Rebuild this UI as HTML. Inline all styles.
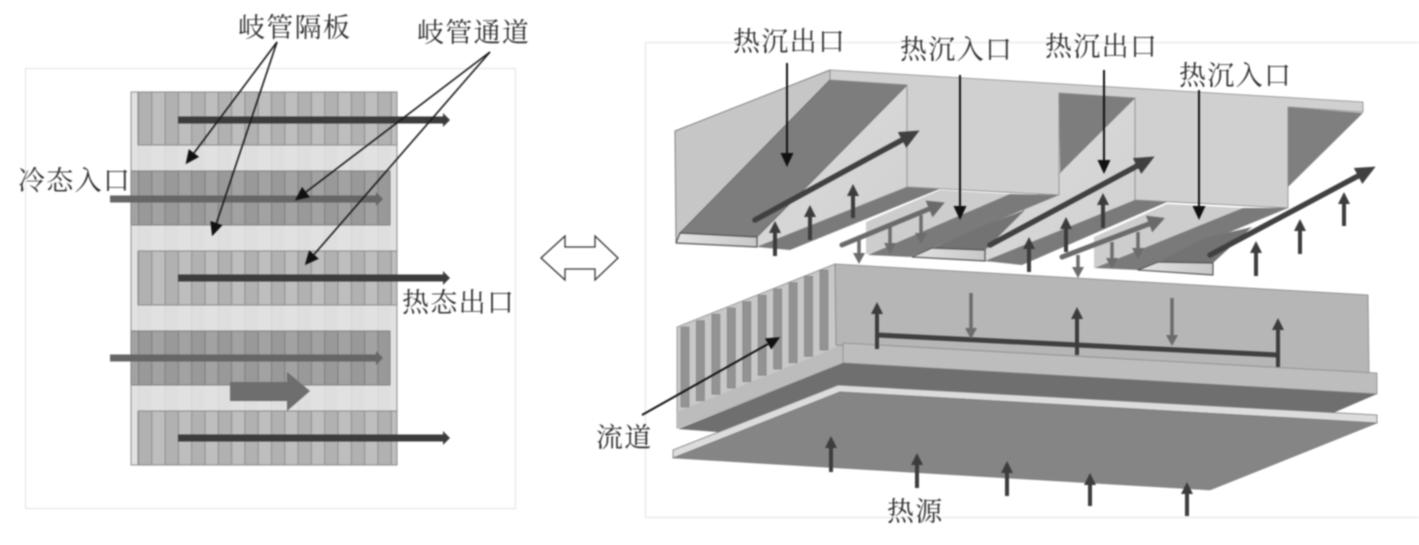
<!DOCTYPE html>
<html><head><meta charset="utf-8"><style>
html,body{margin:0;padding:0;background:#fff;width:1419px;height:545px;overflow:hidden}
svg{display:block;filter:blur(.7px)}
text{font-family:"Liberation Serif","Noto Serif CJK SC",serif;font-size:27px;letter-spacing:1.3px;fill:#2e2e2e}
</style></head><body>
<svg width="1419" height="545" viewBox="0 0 1419 545" xmlns="http://www.w3.org/2000/svg">
<defs>
<marker id="mk" markerUnits="userSpaceOnUse" markerWidth="15" markerHeight="14" refX="0" refY="7" orient="auto"><path d="M0 0.5L14 7L0 13.5Z" fill="#111"/></marker>
<marker id="ds" markerUnits="userSpaceOnUse" markerWidth="13" markerHeight="14" refX="0" refY="7" orient="auto"><path d="M0 1L12 7L0 13Z" fill="#3c3c3c"/></marker>
<marker id="gs" markerUnits="userSpaceOnUse" markerWidth="13" markerHeight="14" refX="0" refY="7" orient="auto"><path d="M0 1L11 7L0 13Z" fill="#6c6c6c"/></marker>
<marker id="bg" markerUnits="userSpaceOnUse" markerWidth="22" markerHeight="20" refX="0" refY="10" orient="auto"><path d="M0 1L20 10L0 19Z" fill="#404040"/></marker>
<marker id="mg" markerUnits="userSpaceOnUse" markerWidth="19" markerHeight="20" refX="0" refY="10" orient="auto"><path d="M0 1L17 10L0 19Z" fill="#6a6a6a"/></marker>
<marker id="h1" markerUnits="userSpaceOnUse" markerWidth="9" markerHeight="16" refX="0" refY="8" orient="auto"><path d="M0 1L7 8L0 15Z" fill="#3c3c3c"/></marker>
<marker id="h2" markerUnits="userSpaceOnUse" markerWidth="9" markerHeight="16" refX="0" refY="8" orient="auto"><path d="M0 1L7 8L0 15Z" fill="#666"/></marker>
<pattern id="pA" patternUnits="userSpaceOnUse" x="138" y="0" width="26.6" height="10"><rect width="26.6" height="10" fill="#b1b1b1"/><rect x="13.3" width="13.3" height="10" fill="#bebebe"/><rect width="1" height="10" fill="#8f8f8f"/><rect x="13.3" width="1" height="10" fill="#8f8f8f"/></pattern>
<pattern id="pB" patternUnits="userSpaceOnUse" x="138" y="0" width="26.6" height="10"><rect width="26.6" height="10" fill="#999"/><rect x="13.3" width="13.3" height="10" fill="#a2a2a2"/><rect width="1" height="10" fill="#7e7e7e"/><rect x="13.3" width="1" height="10" fill="#7e7e7e"/></pattern>
<pattern id="pC" patternUnits="userSpaceOnUse" x="138" y="0" width="26.6" height="10"><rect width="26.6" height="10" fill="#dedede"/><rect x="13.3" width="13.3" height="10" fill="#e1e1e1"/><rect width="1" height="10" fill="#d6d6d6"/></pattern>
<linearGradient id="wall" x1="0" y1="0" x2="1" y2="1"><stop offset="0" stop-color="#bdbdbd"/><stop offset=".5" stop-color="#d6d6d6"/><stop offset="1" stop-color="#cfcfcf"/></linearGradient>
<linearGradient id="lip" x1="0" y1="0" x2="1" y2="0"><stop offset="0" stop-color="#e2e2e2"/><stop offset="1" stop-color="#c8c8c8"/></linearGradient>
</defs>

<!-- frames -->
<rect x="25.5" y="68.5" width="490" height="440" fill="#fff" stroke="#e2e2e2"/>
<rect x="645.5" y="42.5" width="790" height="475" fill="#fff" stroke="#e2e2e2"/>

<!-- left plan view -->
<rect x="131" y="92" width="266" height="373" fill="url(#pC)" stroke="#8f8f8f"/>
<rect x="138" y="92" width="259" height="53" fill="url(#pA)" stroke="#8a8a8a"/>
<rect x="131" y="171" width="259" height="54" fill="url(#pB)" stroke="#808080"/>
<rect x="138" y="251" width="259" height="54" fill="url(#pA)" stroke="#8a8a8a"/>
<rect x="131" y="331" width="259" height="54" fill="url(#pB)" stroke="#808080"/>
<rect x="138" y="411" width="259" height="54" fill="url(#pA)" stroke="#8a8a8a"/>
<g stroke-width="7" fill="none">
<line x1="178" y1="120" x2="443" y2="120" stroke="#3c3c3c" marker-end="url(#h1)"/>
<line x1="178" y1="278" x2="443" y2="278" stroke="#3c3c3c" marker-end="url(#h1)"/>
<line x1="178" y1="438" x2="443" y2="438" stroke="#3c3c3c" marker-end="url(#h1)"/>
<line x1="110" y1="199" x2="376" y2="199" stroke="#666" marker-end="url(#h2)"/>
<line x1="110" y1="358" x2="376" y2="358" stroke="#666" marker-end="url(#h2)"/>
</g>
<polygon points="230,382 287,382 287,372 310,391 287,411 287,401 230,401" fill="#6e6e6e"/>
<g stroke="#1a1a1a" stroke-width="1.6" fill="none">
<line x1="277" y1="42" x2="194" y2="153" marker-end="url(#mk)"/>
<line x1="277" y1="42" x2="216.500" y2="223" marker-end="url(#mk)"/>
<line x1="490" y1="52" x2="306" y2="192" marker-end="url(#mk)"/>
<line x1="490" y1="52" x2="314" y2="254.500" marker-end="url(#mk)"/>
</g>

<!-- double arrow -->
<polygon points="541,258 565,236 565,247 595,247 595,236 618,258 595,280 595,269 565,269 565,280" fill="#fff" stroke="#333" stroke-width="1.3"/>

<!-- manifold -->
<g stroke-linejoin="round">
<polygon points="675,131 830,70 830,80 680,233 676,243" fill="#c6c6c6" stroke="#808080"/>
<polygon points="757,237 907,85 907,187 757,247" fill="url(#wall)" stroke="#a0a0a0" stroke-width=".6"/>
<polygon points="680,233 830,80 907,85 757,237" fill="#7d7d7d" stroke="#666" stroke-width=".6"/>
<polygon points="680,233 757,237 757,247 676,243" fill="url(#lip)" stroke="#555" stroke-width="1.2"/>
<polygon points="907,187 942,188 790,250 757,247" fill="#7a7a7a"/>

<polygon points="866,222 940,190 1010,194 870,254 866,254" fill="#cdcdcd"/>
<polygon points="985,250 1059,173 1135,98 1135,200 1020,262 985,261" fill="url(#wall)" stroke="#a0a0a0" stroke-width=".6"/>
<polygon points="1059,93 1135,98 1060,173" fill="#7d7d7d"/>
<polygon points="1010,194 1059,195 910,257 868,255" fill="#7a7a7a"/>
<polygon points="1025,210 985,250 932,248 985,225" fill="#737373"/>
<polygon points="912,257 932,248 985,250 985,261" fill="url(#lip)" stroke="#555" stroke-width="1.2"/>
<polygon points="1135,200 1167,202 1022,265 985,261" fill="#7a7a7a"/>

<polygon points="1094,237 1167,204 1243,208 1098,268 1094,268" fill="#cdcdcd"/>
<polygon points="1243,208 1288,208 1138,270 1095,268" fill="#7a7a7a"/>
<polygon points="1252,227 1213,263 1158,262 1205,238" fill="#737373"/>
<polygon points="1138,270 1158,262 1213,263 1213,275" fill="url(#lip)" stroke="#555" stroke-width="1.2"/>
<polygon points="1287,107 1363,113 1288,187" fill="#7f7f7f"/>

<polygon points="830,70 1363,102 1363,112 1288,107 1288,208 1135,200 1135,98 1059,93 1059,195 907,187 907,85 830,80" fill="#d0d0d0" stroke="#888" stroke-width=".8"/>
</g>

<!-- heat sink -->
<polygon points="677,327 835,264 843,343 843,363 677,428" fill="#c8c8c8" stroke="#8a8a8a" stroke-width=".8"/>
<polygon points="677,412 830,350 843,343 843,363 677,428" fill="#bcbcbc"/>
<g fill="#939393" stroke="#7c7c7c" stroke-width=".6">
<rect x="681" y="327" width="8" height="80"/>
<rect x="696.4" y="320.7" width="8" height="80"/>
<rect x="711.9" y="314.3" width="8" height="80"/>
<rect x="727.3" y="308" width="8" height="80"/>
<rect x="742.8" y="301.7" width="8" height="80"/>
<rect x="758.2" y="295.3" width="8" height="80"/>
<rect x="773.6" y="289" width="8" height="80"/>
<rect x="789.1" y="282.7" width="8" height="80"/>
<rect x="804.5" y="276.3" width="8" height="80"/>
<rect x="820" y="270" width="8" height="80"/>
</g>
<polygon points="835,264 1368,295 1369,373 836,345" fill="#b6b6b6" stroke="#808080" stroke-width=".8"/>
<polygon points="843,343 1377,373 1377,394 843,363" fill="#bdbdbd" stroke="#8a8a8a" stroke-width=".8"/>
<polygon points="843,363 1377,394 1333,413 717,432 678,429" fill="#6f6f6f"/>
<polygon points="673,450 838,385 1377,415 1377,423 840,392 673,458" fill="#dcdcdc" stroke="#777" stroke-width=".8"/>
<polygon points="673,458 840,392 1377,423 1210,490" fill="#858585" stroke="#777" stroke-width=".6"/>

<!-- lower flow arrows -->
<line x1="877" y1="335" x2="1278" y2="355" stroke="#3f3f3f" stroke-width="5"/>
<g stroke="#3c3c3c" stroke-width="4" fill="none">
<line x1="877" y1="349" x2="877" y2="314" marker-end="url(#ds)"/>
<line x1="1077" y1="355" x2="1077" y2="319" marker-end="url(#ds)"/>
<line x1="1278" y1="367" x2="1278" y2="330" marker-end="url(#ds)"/>
<line x1="831" y1="472" x2="831" y2="448" marker-end="url(#ds)"/>
<line x1="917" y1="488" x2="917" y2="465" marker-end="url(#ds)"/>
<line x1="1007" y1="496" x2="1007" y2="473" marker-end="url(#ds)"/>
<line x1="1090" y1="506" x2="1090" y2="485" marker-end="url(#ds)"/>
<line x1="1187" y1="516" x2="1187" y2="494" marker-end="url(#ds)"/>
<line x1="775" y1="256" x2="775" y2="233" marker-end="url(#ds)"/>
<line x1="810" y1="240" x2="810" y2="217" marker-end="url(#ds)"/>
<line x1="853" y1="218" x2="853" y2="196" marker-end="url(#ds)"/>
<line x1="1029" y1="272" x2="1029" y2="249" marker-end="url(#ds)"/>
<line x1="1066" y1="252" x2="1066" y2="229" marker-end="url(#ds)"/>
<line x1="1103" y1="228" x2="1103" y2="205" marker-end="url(#ds)"/>
<line x1="1256" y1="276" x2="1256" y2="253" marker-end="url(#ds)"/>
<line x1="1300" y1="254" x2="1300" y2="231" marker-end="url(#ds)"/>
<line x1="1344" y1="226" x2="1344" y2="204" marker-end="url(#ds)"/>
</g>
<g stroke="#6c6c6c" stroke-width="3.5" fill="none">
<line x1="971" y1="293" x2="971" y2="328" marker-end="url(#gs)"/>
<line x1="1172" y1="298" x2="1172" y2="335" marker-end="url(#gs)"/>
<line x1="859" y1="240" x2="859" y2="253" marker-end="url(#gs)"/>
<line x1="890" y1="227" x2="890" y2="243" marker-end="url(#gs)"/>
<line x1="921" y1="215" x2="921" y2="233" marker-end="url(#gs)"/>
<line x1="1078" y1="255" x2="1078" y2="267" marker-end="url(#gs)"/>
<line x1="1112" y1="242" x2="1112" y2="258" marker-end="url(#gs)"/>
<line x1="1138" y1="232" x2="1138" y2="248" marker-end="url(#gs)"/>
</g>
<g stroke="#6a6a6a" stroke-width="5" stroke-linecap="round" fill="none">
<line x1="842" y1="245" x2="929" y2="209" marker-end="url(#mg)"/>
<line x1="1062" y1="257" x2="1149" y2="224" marker-end="url(#mg)"/>
</g>
<g stroke="#404040" stroke-width="5.500" stroke-linecap="round" fill="none">
<line x1="755" y1="220" x2="902" y2="140" marker-end="url(#bg)"/>
<line x1="990" y1="245" x2="1137" y2="166" marker-end="url(#bg)"/>
<line x1="1210" y1="255" x2="1358" y2="176" marker-end="url(#bg)"/>
</g>
<g stroke="#111" stroke-width="2" fill="none">
<line x1="787" y1="63" x2="787" y2="153" marker-end="url(#mk)"/>
<line x1="960" y1="75" x2="960" y2="206" marker-end="url(#mk)"/>
<line x1="1104" y1="70" x2="1104" y2="160" marker-end="url(#mk)"/>
<line x1="1199" y1="90" x2="1199" y2="206" marker-end="url(#mk)"/>
<line x1="642" y1="415" x2="768" y2="344" marker-end="url(#mk)"/>
</g>

<!-- labels -->
<text x="238" y="37">岐管隔板</text>
<text x="417" y="42">岐管通道</text>
<text x="18" y="190">冷态入口</text>
<text x="402" y="312">热态出口</text>
<text x="733" y="51">热沉出口</text>
<text x="900" y="59">热沉入口</text>
<text x="1045" y="56">热沉出口</text>
<text x="1179" y="85">热沉入口</text>
<text x="596" y="447">流道</text>
<text x="887" y="521">热源</text>
</svg>
</body></html>
